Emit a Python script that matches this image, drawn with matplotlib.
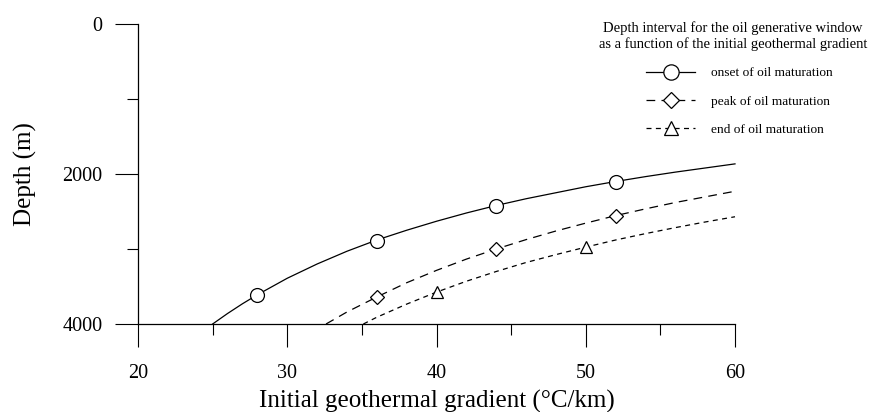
import numpy as np
import matplotlib
matplotlib.use("Agg")
import matplotlib.pyplot as plt
from matplotlib.lines import Line2D
from matplotlib.ticker import MultipleLocator

# curves (gradient in degC/km, depth in m)
onset_x = [25, 26, 27, 28, 30, 32, 34, 36, 38, 40, 42, 44, 46, 48, 50, 52, 54, 56, 58, 60]
onset_d = [4000, 3860, 3730, 3610, 3390, 3200, 3030, 2880, 2750, 2630, 2520, 2420, 2330, 2250, 2170, 2100, 2035, 1975, 1920, 1865]
peak_x = [32.6, 34, 36, 38, 40, 42, 44, 46, 48, 50, 52, 54, 56, 58, 60]
peak_d = [4000, 3840, 3640, 3450, 3285, 3135, 3000, 2875, 2760, 2655, 2555, 2465, 2380, 2305, 2230]
end_x = [35.1, 36, 38, 40, 42, 44, 46, 48, 50, 52, 54, 56, 58, 60]
end_d = [4000, 3910, 3735, 3575, 3430, 3300, 3180, 3075, 2975, 2880, 2795, 2715, 2640, 2570]

# marker positions
onset_mx = [28, 36, 44, 52]
onset_md = [3610, 2890, 2420, 2100]
peak_mx = [36, 44, 52]
peak_md = [3636, 3000, 2556]
end_mx = [40, 50]
end_md = [3575, 2975]

labels = ["onset of oil maturation", "peak of oil maturation", "end of oil maturation"]
legend_title = "Depth interval for the oil generative window\nas a function of the initial geothermal gradient"

plt.rcParams["font.family"] = ["Liberation Serif", "DejaVu Serif"]

fig = plt.figure(figsize=(8.69, 4.12), dpi=100)
ax = fig.add_axes([138 / 869, 1 - 324 / 412, (735 - 138) / 869, 300 / 412])

lw = 0.9
styles = [
    ("-", "o", 10, onset_x, onset_d, onset_mx, onset_md),
    ((0, (7, 5)), "D", 7, peak_x, peak_d, peak_mx, peak_md),
    ((0, (4, 3.5)), "^", 9, end_x, end_d, end_mx, end_md),
]
handles = []
for (ls, mk, ms, x, d, mx, md), lab in zip(styles, labels):
    ax.plot(x, d, color="black", lw=lw, linestyle=ls, clip_on=False)
    ax.plot(mx, md, linestyle="none", marker=mk, ms=ms, mfc="white",
            mec="black", mew=0.9, clip_on=False)
    handles.append(Line2D([], [], color="black", lw=lw, linestyle=ls,
                          marker=mk, ms=ms + 1, mfc="white", mec="black", mew=0.9))

ax.set_xlim(20, 60)
ax.set_ylim(4000, 0)
ax.xaxis.set_major_locator(MultipleLocator(10))
ax.xaxis.set_minor_locator(MultipleLocator(5))
ax.yaxis.set_major_locator(MultipleLocator(2000))
ax.yaxis.set_minor_locator(MultipleLocator(1000))
for s in ["top", "right"]:
    ax.spines[s].set_visible(False)
for s in ["left", "bottom"]:
    ax.spines[s].set_linewidth(0.9)
ax.tick_params(which="major", direction="out", length=16.5, width=0.8, labelsize=14.5)
ax.tick_params(which="minor", direction="out", length=8, width=0.8)
ax.tick_params(axis="y", which="major", pad=9)
ax.tick_params(axis="x", which="major", pad=12)

ax.set_ylabel("Depth (m)", fontsize=18, labelpad=18)
ax.set_xlabel("Initial geothermal gradient (\u00b0C/km)", fontsize=18, labelpad=5)

fig.text(733 / 869, 1 - 36 / 412, legend_title, ha="center", va="center",
         fontsize=10.5, linespacing=1.25)
fig.legend(handles, labels, loc="upper left", bbox_to_anchor=(646 / 869, 1 - 67 / 412),
           frameon=False, fontsize=9.6, handlelength=3.7, handletextpad=1.2,
           labelspacing=1.2, borderpad=0, borderaxespad=0, numpoints=1)

fig.savefig("out.png", dpi=100)
